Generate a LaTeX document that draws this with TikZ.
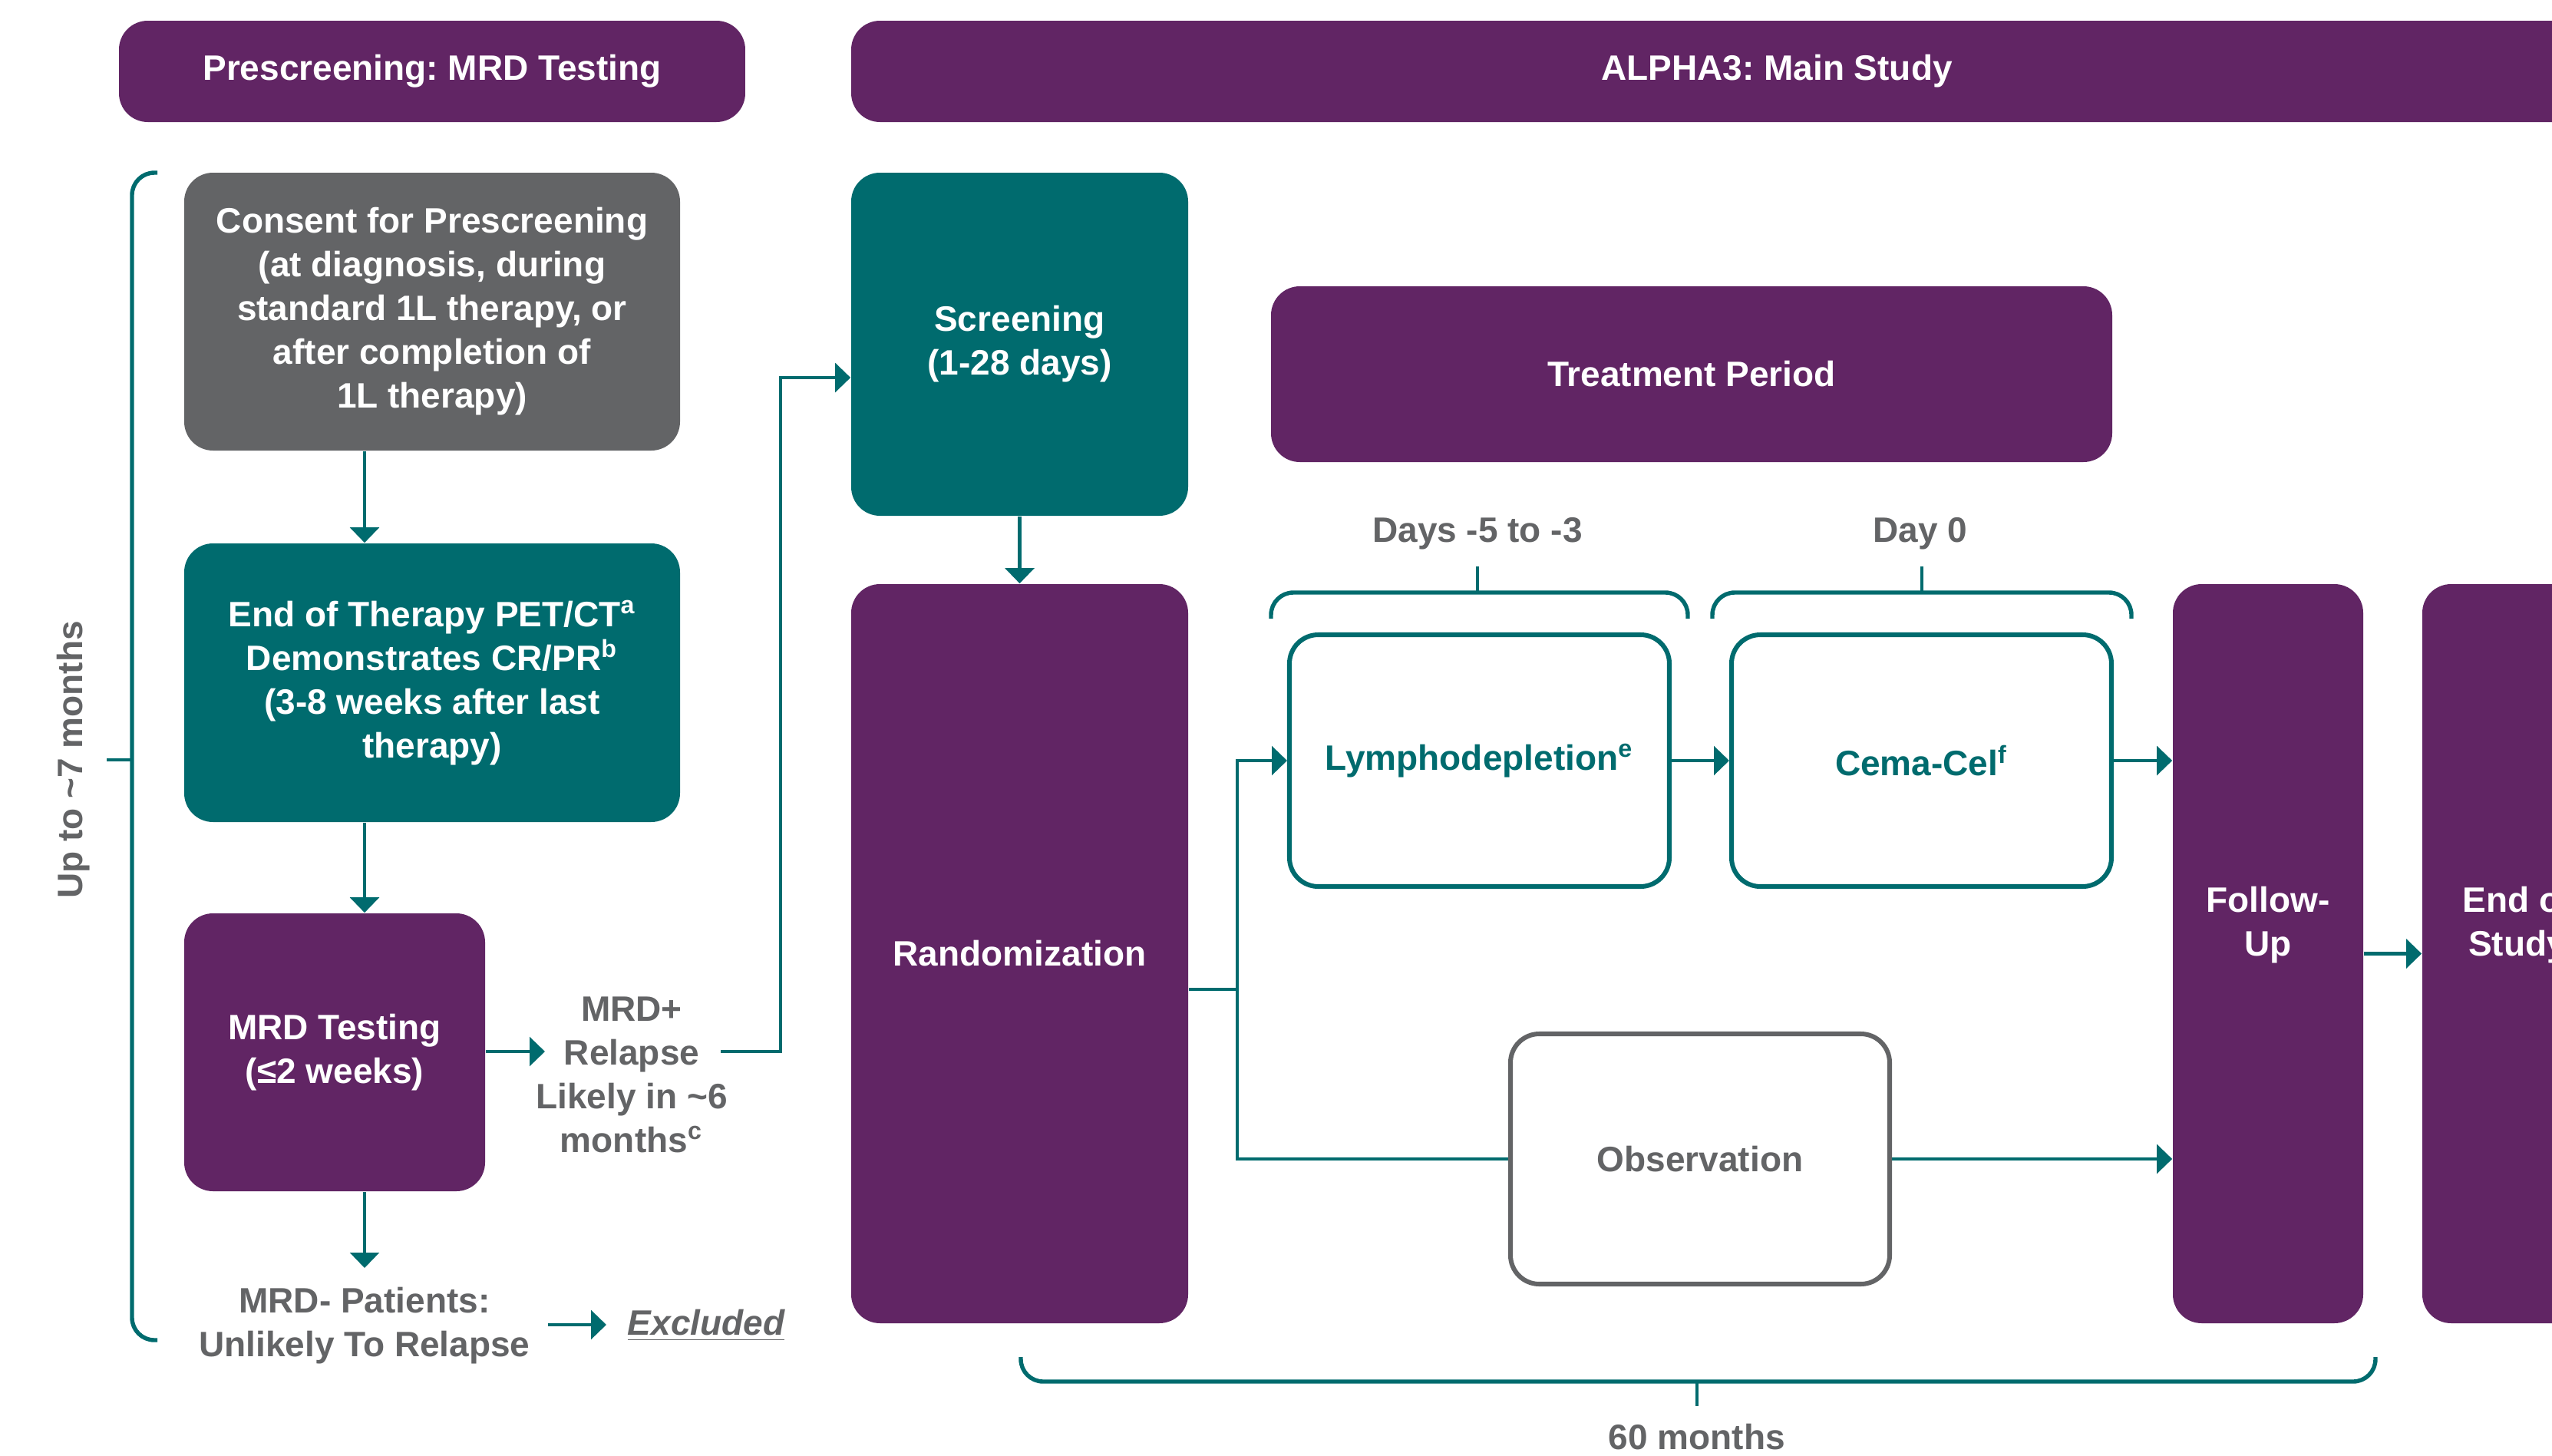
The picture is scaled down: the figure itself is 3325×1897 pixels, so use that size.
\documentclass[tikz,border=0pt]{standalone}
\usepackage{fontspec}
\setmainfont{Liberation Sans}
\usetikzlibrary{arrows.meta}
\definecolor{cpurple}{RGB}{97,37,100}
\definecolor{cteal}{RGB}{0,107,110}
\definecolor{cgray}{RGB}{99,100,102}
\frenchspacing
\begin{document}
\begin{tikzpicture}[x=0.24pt,y=-0.24pt,
  every node/.style={font=\fontsize{11.04pt}{13.68pt}\selectfont\bfseries, align=center, inner sep=0pt},
  fillbox/.style={rounded corners=9pt, text=white},
  purplebox/.style={fillbox, fill=cpurple},
  tealbox/.style={fillbox, fill=cteal},
  graybox/.style={fillbox, fill=cgray},
  outbox/.style={rounded corners=9pt, draw=cteal, line width=1.45pt, fill=white, text=cteal},
  obsbox/.style={rounded corners=9pt, draw=cgray, line width=1.45pt, fill=white, text=cgray},
  graytext/.style={text=cgray},
  conn/.style={draw=cteal, line width=1.1pt},
  arr/.style={conn, -{Triangle[length=4.8pt,width=9pt]}},
  bracepath/.style={draw=cteal, line width=1.3pt, rounded corners=7pt},
]
\path[use as bounding box, clip] (0,0) rectangle (3325,1897);

% headers
\node[purplebox, minimum width=195.84pt, minimum height=31.68pt] (h1) at (563,93) {Prescreening: MRD Testing};
\node[purplebox, minimum width=578.88pt, minimum height=31.68pt] (h2) at (2315,93) {ALPHA3: Main Study};

% prescreening column
\node[graybox, minimum width=155.04pt, minimum height=86.88pt] (consent) at (563,406) {Consent for Prescreening\\(at diagnosis, during\\standard 1L therapy, or\\after completion of\\1L therapy)};
\node[tealbox, minimum width=155.04pt, minimum height=87.12pt] (eot) at (563,889.5) {End of Therapy PET/CT\textsuperscript{a}\\Demonstrates CR/PR\textsuperscript{b}\\(3-8 weeks after last\\therapy)};
\node[purplebox, minimum width=94.08pt, minimum height=86.88pt] (mrd) at (436,1371) {MRD Testing\\(≤2 weeks)};
\node[graytext] (mrdp) at (823,1400) {MRD+\\Relapse\\Likely in \textasciitilde6\\months\textsuperscript{c}};
\node[graytext] (mrdm) at (475,1727) {MRD- Patients:\\Unlikely To Relapse};
\node[graytext] (excl) at (920,1727) {\itshape\underline{Excluded}};
\node[graytext, rotate=90] (upto) at (96,990) {Up to \textasciitilde7 months};

% main study
\node[tealbox, minimum width=105.36pt, minimum height=107.28pt] (scr) at (1328.5,448.5) {Screening\\(1-28 days)};
\node[purplebox, minimum width=105.36pt, minimum height=231.12pt] (rand) at (1328.5,1242.5) {Randomization};
\node[purplebox, minimum width=263.04pt, minimum height=54.96pt] (treat) at (2204,487.5) {Treatment Period};
\node[graytext] (d1) at (1925,695) {Days -5 to -3};
\node[graytext] (d0) at (2502,695) {Day 0};
\node[outbox, minimum width=118.8pt, minimum height=78.72pt] (lym) at (1927.5,991) {Lymphodepletion\textsuperscript{e}};
\node[outbox, minimum width=118.8pt, minimum height=78.72pt] (cema) at (2503.5,991) {Cema-Cel\textsuperscript{f}};
\node[obsbox, minimum width=118.56pt, minimum height=78.24pt] (obs) at (2215,1510) {Observation};
\node[purplebox, minimum width=59.52pt, minimum height=231.12pt] (fu) at (2955,1242.5) {};
\node[text=white] (fut) at (2955,1205) {Follow-\\Up};
\node[purplebox, minimum width=59.52pt, minimum height=231.12pt] (eos) at (3280,1242.5) {};
\node[text=white] (eost) at (3280,1205) {End of\\Study};
\node[graytext] (sixty) at (2211,1872) {60 months};

% connectors
\coordinate (ax) at (475,0);
\draw[arr] (consent.south -| ax) -- (eot.north -| ax);
\draw[arr] (eot.south -| ax) -- (mrd.north -| ax);
\coordinate (mrdmTop) at (475,1652);
\draw[arr] (mrd.south -| ax) -- (mrdmTop);
\coordinate (mrdIn) at (710,1370);
\draw[arr] (mrd.east |- mrdIn) -- (mrdIn);
\coordinate (mrdOut) at (939,1370);
\coordinate (scrIn) at (1017,492);
\draw[arr] (mrdOut) -| (scrIn) -- (scr.west |- scrIn);
\coordinate (exA) at (714,1726);
\coordinate (exB) at (790,1726);
\draw[arr] (exA) -- (exB);
\draw[arr] (scr.south) -- (rand.north);
\coordinate (split) at (1612,1289);
\draw[conn] (rand.east |- split) -- (split);
\draw[arr] (split) |- (lym.west);
\draw[conn] (split) |- (obs.west);
\draw[arr] (lym.east) -- (cema.west);
\draw[arr] (cema.east) -- (fu.west |- cema.east);
\draw[arr] (obs.east) -- (fu.west |- obs.east);
\draw[arr] (fu.east) -- (eos.west);

% braces
\draw[bracepath] (205,225) -- (172,225) -- (172,1746) -- (205,1746);
\draw[conn] (172,990) -- (139,990);
\draw[bracepath] (1656,806) -- (1656,772) -- (2199,772) -- (2199,806);
\draw[conn] (1925,772) -- (1925,738);
\draw[bracepath] (2231,806) -- (2231,772) -- (2777,772) -- (2777,806);
\draw[conn] (2504,772) -- (2504,738);
\draw[bracepath] (1330,1768) -- (1330,1800) -- (3095,1800) -- (3095,1768);
\draw[conn] (2211,1800) -- (2211,1832);
\end{tikzpicture}
\end{document}
